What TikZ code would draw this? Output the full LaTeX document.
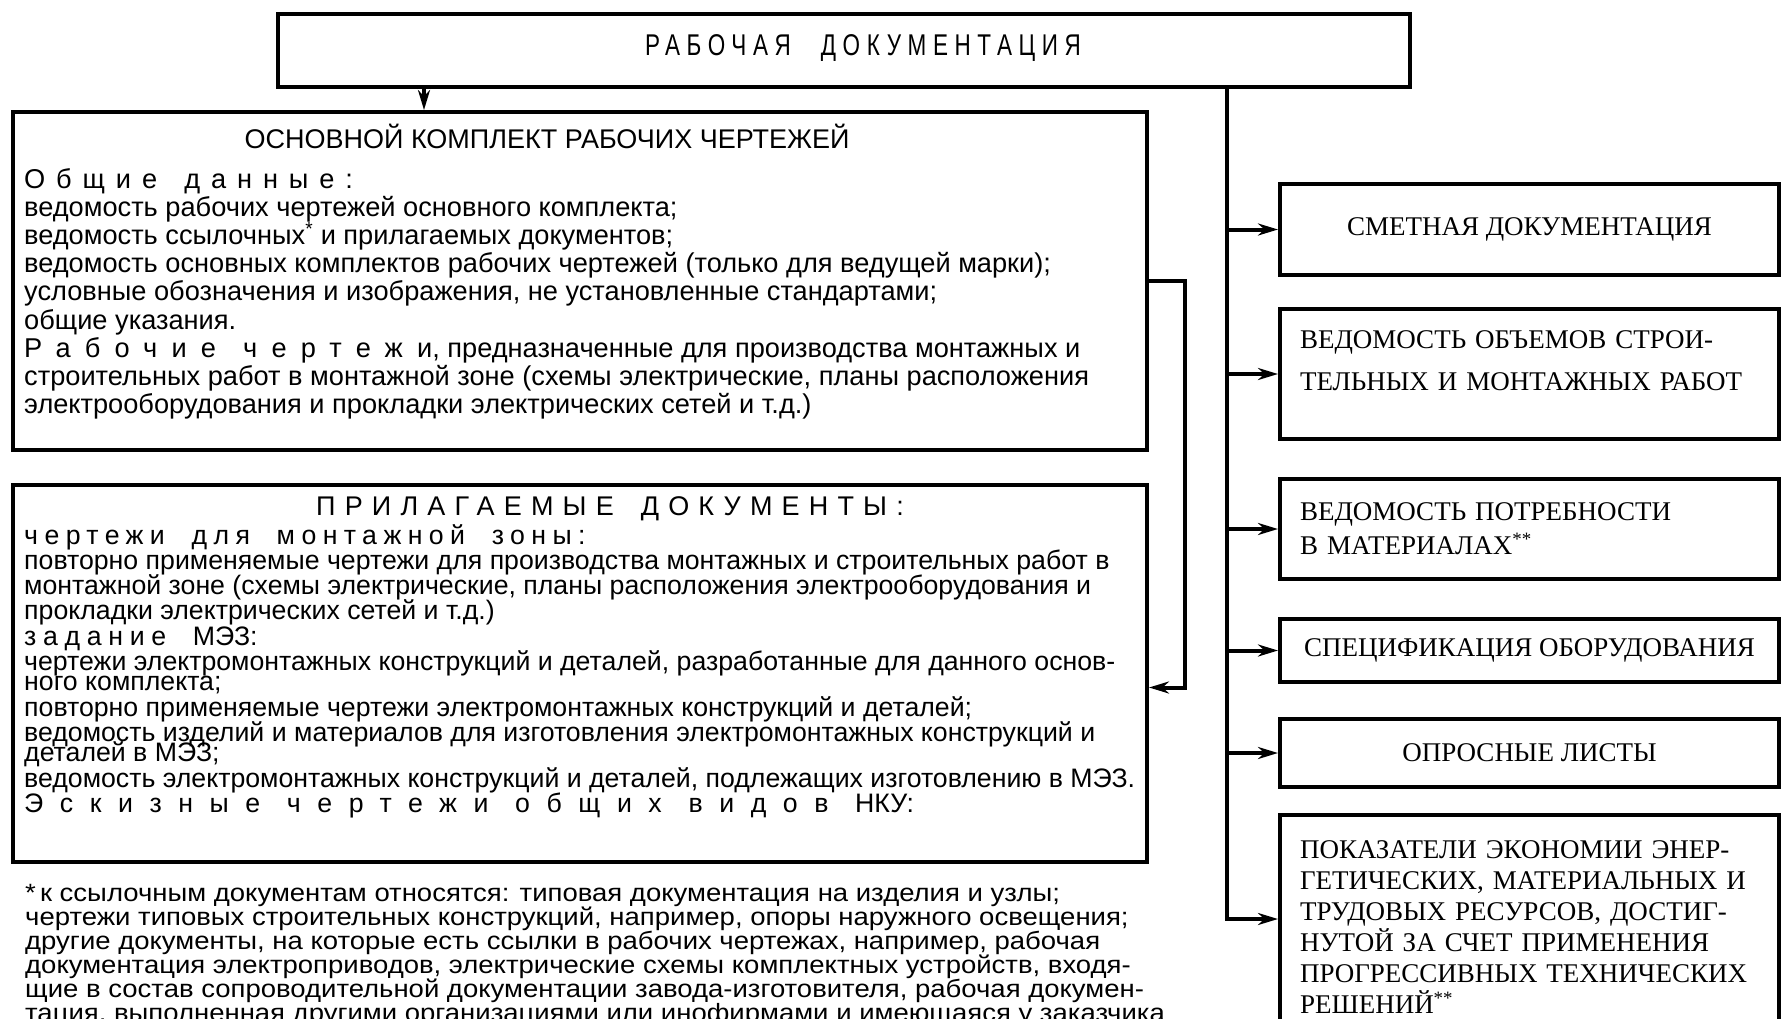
\documentclass[tikz,border=0pt]{standalone}
\usepackage{fontspec}
\setmainfont{Liberation Sans}
\newfontfamily\capsfont{Liberation Serif}
\newfontfamily\notefont[FakeStretch=1.1]{Liberation Sans}
\newfontfamily\titlefont[FakeStretch=0.75]{Liberation Sans}
\usetikzlibrary{arrows.meta,positioning}
\setlength{\lineskiplimit}{-100pt}
\newcommand{\razr}[2][40]{{\addfontfeature{LetterSpace=#1}#2}}

\begin{document}
\begin{tikzpicture}[x=1pt, y=-1pt,
    box/.style={draw, line width=4pt, inner sep=0pt, anchor=north west},
    rbox/.style={box, minimum width=499pt, font=\capsfont\fontsize{27}{34}\selectfont},
    body/.style={anchor=north west, inner sep=0pt, align=left, font=\fontsize{27.2}{28.2}\selectfont},
    head/.style={inner sep=0pt, font=\fontsize{27}{27}\selectfont},
    note/.style={anchor=north west, inner sep=0pt, align=left, font=\notefont\fontsize{25}{24}\selectfont},
    link/.style={line width=4pt},
    arr/.style={link, -{Stealth[length=20pt, width=12pt]}}]
    \useasboundingbox (0, 0) rectangle (1781, 1018);
    \clip (0, 0) rectangle (1781, 1018);

    \node[box, minimum width=1132pt, minimum height=73pt] (rd) at (276, 12) {};
    \node[head, font=\titlefont\fontsize{30}{30}\selectfont] (rdtext) at (863, 48) {\razr[22]{РАБОЧАЯ\quad ДОКУМЕНТАЦИЯ}};

    \node[box, minimum width=1134pt, minimum height=338pt] (osn) at (11, 110) {};
    \node[head] (osntitle) at (547, 136) {ОСНОВНОЙ КОМПЛЕКТ РАБОЧИХ ЧЕРТЕЖЕЙ};
    \node[body] (osntext) at (24, 168) {\razr{Общие\quad данные:}\\
        ведомость рабочих чертежей основного комплекта;\\
        ведомость ссылочных\textsuperscript{*} и прилагаемых документов;\\
        ведомость основных комплектов рабочих чертежей (только для ведущей марки);\\
        условные обозначения и изображения, не установленные стандартами;\\
        общие указания.\\
        \razr[52]{Рабочие\quad чертежи}, предназначенные для производства монтажных и\\
        строительных работ в монтажной зоне (схемы электрические, планы расположения\\
        электрооборудования и прокладки электрических сетей и т.д.)};

    \node[box, minimum width=1134pt, minimum height=377pt] (pril) at (11, 483) {};
    \node[head] (priltitle) at (610, 509) {\razr[34]{ПРИЛАГАЕМЫЕ\quad ДОКУМЕНТЫ:}};
    \node[body, font=\fontsize{26.7}{25.3}\selectfont] (priltext) at (24, 524) {\razr[24]{чертежи\quad для\quad монтажной\quad зоны:}\\
        повторно применяемые чертежи для производства монтажных и строительных работ в\\
        монтажной зоне (схемы электрические, планы расположения электрооборудования и\\
        прокладки электрических сетей и т.д.)\\
        \razr[25]{задание}\quad МЭЗ:\\
        чертежи электромонтажных конструкций и деталей, разработанные для данного основ-\\[-5pt]
        ного комплекта;\\
        повторно применяемые чертежи электромонтажных конструкций и деталей;\\
        ведомость изделий и материалов для изготовления электромонтажных конструкций и\\[-5pt]
        деталей в МЭЗ;\\
        ведомость электромонтажных конструкций и деталей, подлежащих изготовлению в МЭЗ.\\
        \razr[62]{Эскизные\quad чертежи\quad общих\quad видов}\quad НКУ:};

    \node[note] (snoska) at (25, 884) {*\,к ссылочным документам относятся: типовая документация на изделия и узлы;\\
        чертежи типовых строительных конструкций, например, опоры наружного освещения;\\
        другие документы, на которые есть ссылки в рабочих чертежах, например, рабочая\\
        документация электроприводов, электрические схемы комплектных устройств, входя-\\
        щие в состав сопроводительной документации завода-изготовителя, рабочая докумен-\\
        тация, выполненная другими организациями или инофирмами и имеющаяся у заказчика};

    \node[rbox, minimum height=91pt] (sm) at (1278, 182) {СМЕТНАЯ ДОКУМЕНТАЦИЯ};
    \node[rbox, minimum height=130pt, text width=459pt, align=left, font=\capsfont\fontsize{27}{42}\selectfont] (vo) at (1278, 307) {ВЕДОМОСТЬ ОБЪЕМОВ СТРОИ-\\ТЕЛЬНЫХ И МОНТАЖНЫХ РАБОТ\\[-16pt]\mbox{}};
    \node[rbox, minimum height=100pt, text width=459pt, align=left] (vp) at (1278, 477) {ВЕДОМОСТЬ ПОТРЕБНОСТИ\\В МАТЕРИАЛАХ\textsuperscript{**}};
    \node[rbox, minimum height=63pt] (sp) at (1278, 617) {СПЕЦИФИКАЦИЯ ОБОРУДОВАНИЯ};
    \node[rbox, minimum height=68pt] (ol) at (1278, 717) {ОПРОСНЫЕ ЛИСТЫ};
    \node[rbox, minimum height=224pt, text width=459pt, align=left, font=\capsfont\fontsize{27}{31}\selectfont] (pk) at (1278, 813) {ПОКАЗАТЕЛИ ЭКОНОМИИ ЭНЕР-\\
        ГЕТИЧЕСКИХ, МАТЕРИАЛЬНЫХ И\\
        ТРУДОВЫХ РЕСУРСОВ, ДОСТИГ-\\
        НУТОЙ ЗА СЧЕТ ПРИМЕНЕНИЯ\\
        ПРОГРЕССИВНЫХ ТЕХНИЧЕСКИХ\\
        РЕШЕНИЙ\textsuperscript{**}};

    \coordinate (down) at ([xshift=148pt]rd.south west);
    \draw[arr] (down) -- (down |- osn.north);
    \coordinate (trunk) at ([xshift=-185pt]rd.south east);
    \draw[arr] (trunk) |- ([yshift=8pt]pk.west);
    \foreach \b in {sm, vo, vp, sp, ol}
        \draw[arr] (trunk |- \b.west) -- (\b.west);
    \draw[arr] (osn.east) -- ++(36, 0) |- ([yshift=-14pt]pril.east);
\end{tikzpicture}
\end{document}
